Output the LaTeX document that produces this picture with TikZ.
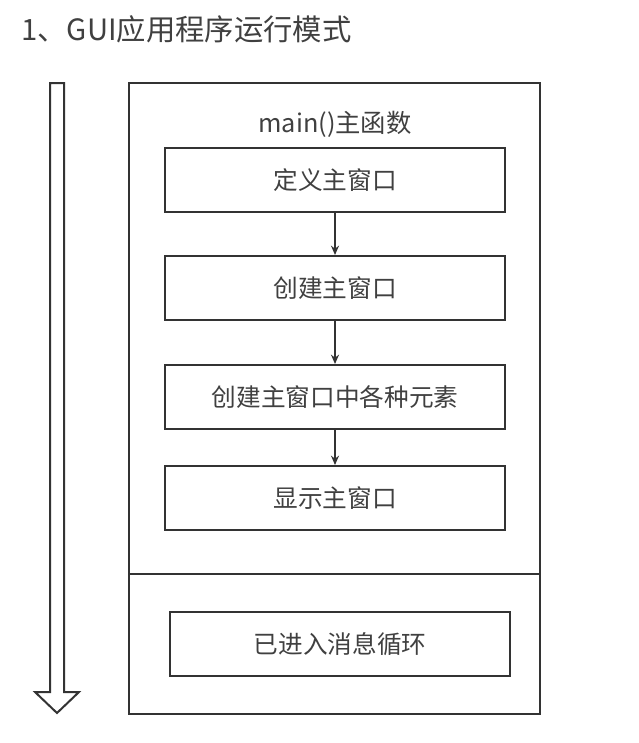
\documentclass[tikz,border=0pt]{standalone}
\usepackage{fontspec}
\setmainfont{Noto Sans CJK SC}
\usepackage{tikz}
\usetikzlibrary{positioning,arrows.meta}
\definecolor{guiLine}{RGB}{51,51,51}
\definecolor{guiText}{RGB}{64,64,64}

\begin{document}
\begin{tikzpicture}[x=0.75pt, y=-0.75pt,
  stepbox/.style={draw=guiLine, line width=1.5pt, align=center,
              font=\fontsize{18.5}{22}\selectfont, text=guiText,
              minimum width=255pt, minimum height=48pt, inner sep=0pt},
  arr/.style={-{Stealth[length=7pt,width=6pt]}, line width=1.3pt, guiLine}]
  \useasboundingbox (0,0) rectangle (639,743);
  % title
  \node[anchor=west, font=\fontsize{22}{26}\selectfont, text=guiText, inner sep=0pt]
    (title) at (21,29) {1、GUI应用程序运行模式};
  % outer frame
  \node[draw=guiLine, line width=1.5pt, minimum width=308pt, minimum height=473pt,
        inner sep=0pt] (frame) at (334.5,398.5) {};
  \draw[guiLine, line width=1.5pt] (frame.west |- 0,574) -- (frame.east |- 0,574);
  \node[font=\fontsize{19}{23}\selectfont, text=guiText] (mainfn) at (335,124) {main()主函数};
  % steps
  \node[stepbox] (def) at (335,180) {定义主窗口};
  \node[stepbox] (create) at (335,288) {创建主窗口};
  \node[stepbox] (elems) at (335,397) {创建主窗口中各种元素};
  \node[stepbox] (show) at (335,498) {显示主窗口};
  \node[stepbox] (loop) at (340,644) {已进入消息循环};
  \draw[arr] (def) -- (create);
  \draw[arr] (create) -- (elems);
  \draw[arr] (elems) -- (show);
  % time arrow
  \draw[guiLine, line width=1.5pt, line join=miter]
    (50,83) -- (64,83) -- (64,692) -- (79,692) -- (57,713) -- (35,692) -- (50,692) -- cycle;
\end{tikzpicture}
\end{document}
